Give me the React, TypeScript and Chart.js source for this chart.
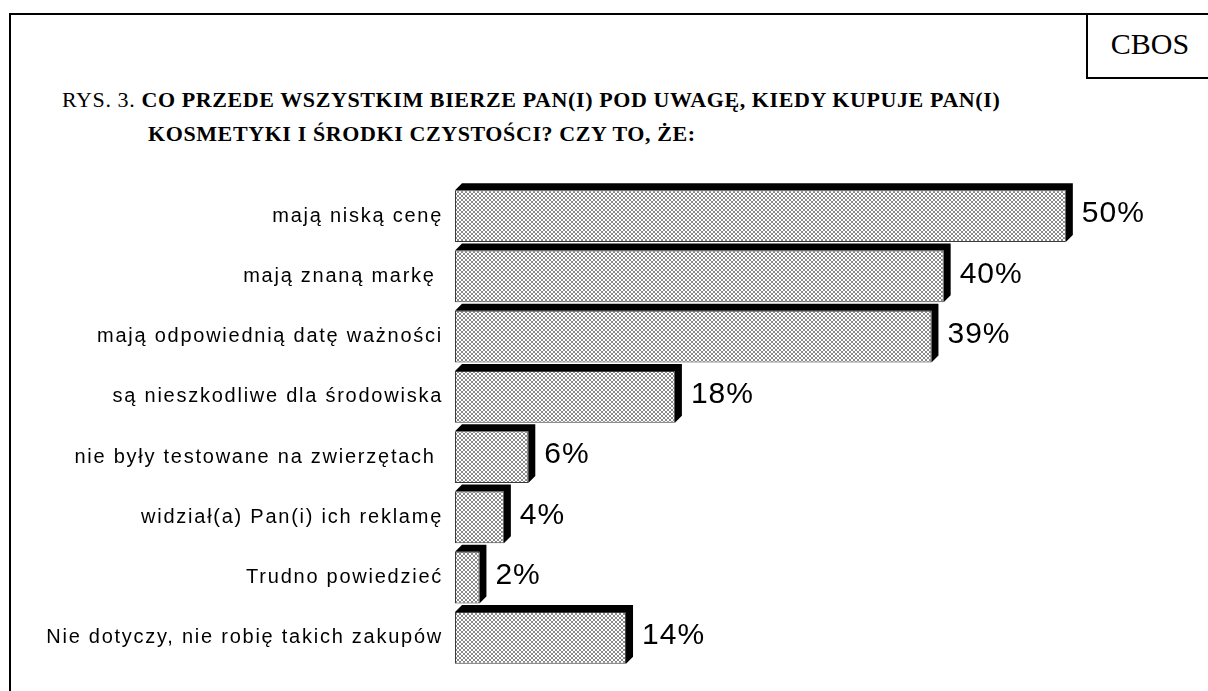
import React, { useEffect, useRef } from "react";
import { Chart, registerables } from "chart.js";

Chart.register(...registerables);

const categories = [
  "mają niską cenę",
  "mają znaną markę ",
  "mają odpowiednią datę ważności",
  "są nieszkodliwe dla środowiska",
  "nie były testowane na zwierzętach ",
  "widział(a) Pan(i) ich reklamę",
  "Trudno powiedzieć",
  "Nie dotyczy, nie robię takich zakupów",
];
const values = [50, 40, 39, 18, 6, 4, 2, 14];
const valueLabels = ["50%", "40%", "39%", "18%", "6%", "4%", "2%", "14%"];

const titlePrefix = "RYS. 3. ";
const titleLine1 = "CO PRZEDE WSZYSTKIM BIERZE PAN(I) POD UWAGĘ, KIEDY KUPUJE PAN(I)";
const titleLine2 = "KOSMETYKI I ŚRODKI CZYSTOŚCI? CZY TO, ŻE:";
const sourceLabel = "CBOS";

const DEPTH = 7;

function makePattern(): CanvasPattern | string {
  const c = document.createElement("canvas");
  c.width = 4;
  c.height = 4;
  const g = c.getContext("2d");
  if (!g) return "#c8c8c8";
  g.fillStyle = "#ffffff";
  g.fillRect(0, 0, 4, 4);
  g.fillStyle = "#8a8a8a";
  const px = [
    [1, 0], [2, 0],
    [0, 1], [3, 1],
    [0, 2], [3, 2],
    [1, 3], [2, 3],
  ];
  px.forEach(([x, y]) => g.fillRect(x, y, 1, 1));
  const p = g.createPattern(c, "repeat");
  return p || "#c8c8c8";
}

const bar3d = {
  id: "bar3d",
  beforeDraw(chart: any) {
    (chart.ctx as any).letterSpacing = "1.75px";
  },
  beforeDatasetsDraw(chart: any) {
    const ctx = chart.ctx;
    const meta = chart.getDatasetMeta(0);
    ctx.save();
    ctx.fillStyle = "#000000";
    meta.data.forEach((el: any) => {
      const { x, y, base, height } = el.getProps(["x", "y", "base", "height"], true);
      const top = y - height / 2;
      const bottom = y + height / 2;
      ctx.beginPath();
      ctx.moveTo(base, top);
      ctx.lineTo(base + DEPTH, top - DEPTH);
      ctx.lineTo(x + DEPTH, top - DEPTH);
      ctx.lineTo(x + DEPTH, bottom - DEPTH);
      ctx.lineTo(x, bottom);
      ctx.lineTo(x, top);
      ctx.closePath();
      ctx.fill();
    });
    ctx.restore();
  },
  afterDatasetsDraw(chart: any) {
    const ctx = chart.ctx;
    const meta = chart.getDatasetMeta(0);
    ctx.save();
    (ctx as any).letterSpacing = "1px";
    ctx.fillStyle = "#000000";
    ctx.font = '30px "Liberation Sans", Arial, sans-serif';
    ctx.textAlign = "left";
    ctx.textBaseline = "middle";
    meta.data.forEach((el: any, i: number) => {
      const { x, y } = el.getProps(["x", "y"], true);
      ctx.fillText(valueLabels[i], x + DEPTH + 9, y - 2);
    });
    ctx.restore();
  },
};

export default function App() {
  const ref = useRef<HTMLCanvasElement | null>(null);

  useEffect(() => {
    document.body.style.margin = "0";
    const canvas = ref.current;
    if (!canvas) return;
    const chart = new Chart(canvas, {
      type: "bar",
      data: {
        labels: categories,
        datasets: [
          {
            data: values,
            backgroundColor: makePattern() as any,
            borderColor: "#3a3a3a",
            borderWidth: 1,
            borderSkipped: false,
            barPercentage: 0.86,
            categoryPercentage: 1,
          },
        ],
      },
      options: {
        indexAxis: "y",
        animation: false,
        responsive: false,
        devicePixelRatio: 1,
        layout: { padding: { top: 14, right: 20, bottom: 0, left: 0 } },
        plugins: {
          legend: { display: false },
          tooltip: { enabled: false },
          title: { display: false },
        },
        scales: {
          x: { display: false, min: 0, max: 60 },
          y: {
            type: "category",
            grid: { display: false, drawTicks: false },
            border: { display: false },
            ticks: {
              color: "#000000",
              padding: 12,
              font: { family: '"Liberation Sans", Arial, sans-serif', size: 20 },
            },
            afterFit: (s: any) => {
              s.width = 445;
            },
          },
        },
      },
      plugins: [bar3d],
    });
    return () => chart.destroy();
  }, []);

  const serif = '"Liberation Serif", "Times New Roman", serif';

  return (
    <div style={{ position: "relative", width: 1208, height: 691, overflow: "hidden", background: "#fff" }}>
      <div
        style={{
          position: "absolute",
          left: 9,
          top: 13,
          width: 1300,
          height: 800,
          borderLeft: "2px solid #000",
          borderTop: "2px solid #000",
        }}
      />
      <div
        style={{
          position: "absolute",
          left: 1086,
          top: 13,
          width: 200,
          height: 64,
          borderLeft: "2px solid #000",
          borderBottom: "2px solid #000",
        }}
      />
      <div
        style={{
          position: "absolute",
          left: 1088,
          top: 26,
          width: 124,
          textAlign: "center",
          fontFamily: serif,
          fontSize: 30,
          lineHeight: "36px",
        }}
      >
        {sourceLabel}
      </div>
      <div
        style={{
          position: "absolute",
          left: 62,
          top: 87,
          whiteSpace: "nowrap",
          fontFamily: serif,
          fontSize: 22,
          lineHeight: "26px",
          letterSpacing: "0.6px",
        }}
      >
        {titlePrefix}
        <b>{titleLine1}</b>
      </div>
      <div
        style={{
          position: "absolute",
          left: 148,
          top: 121,
          whiteSpace: "nowrap",
          fontFamily: serif,
          fontSize: 22,
          lineHeight: "26px",
          letterSpacing: "0.6px",
          fontWeight: "bold",
        }}
      >
        {titleLine2}
      </div>
      <canvas
        ref={ref}
        width={1198}
        height={530}
        style={{ position: "absolute", left: 10, top: 162, width: 1198, height: 530 }}
      />
    </div>
  );
}
